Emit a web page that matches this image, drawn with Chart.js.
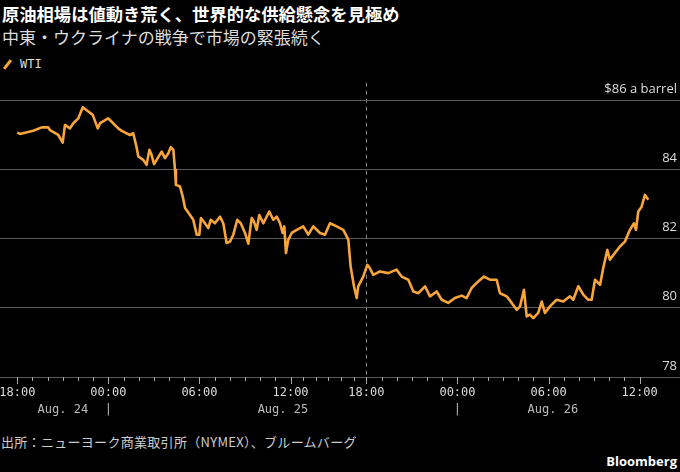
<!DOCTYPE html>
<html>
<head>
<meta charset="utf-8">
<script src="https://cdn.jsdelivr.net/npm/chart.js@4.4.1/dist/chart.umd.min.js"></script>
<style>
  body { margin:0; background:#000; width:680px; height:472px; overflow:hidden; position:relative; font-family:"Noto Sans CJK JP","Noto Sans",sans-serif; }
  .title { position:absolute; left:2px; top:2px; color:#fff; font-size:17.3px; font-weight:700; line-height:24px; white-space:nowrap; }
  .sub { position:absolute; left:2px; top:25px; color:#ddd; font-size:17px; line-height:24px; white-space:nowrap; }
  .legend { position:absolute; left:2px; top:56px; color:#ddd; font:12px "DejaVu Sans Mono",monospace; line-height:16px; }
  .legend i { position:absolute; left:0px; top:7px; width:11px; height:3px; background:#f8a53a; transform:rotate(-52deg); }
  .legend span { position:absolute; left:18px; top:0; }
  #wrap { position:absolute; left:0; top:70px; width:680px; height:352px; }
  .src { position:absolute; left:1px; top:433px; color:#ccc; font-size:13px; letter-spacing:0.3px; line-height:18px; white-space:nowrap; }
  .brand { position:absolute; right:3px; top:452px; color:#fff; font:700 13px "Open Sans",sans-serif; line-height:18px; }
</style>
</head>
<body>
<div class="title">原油相場は値動き荒く、世界的な供給懸念を見極め</div>
<div class="sub">中東・ウクライナの戦争で市場の緊張続く</div>
<div class="legend"><i></i><span>WTI</span></div>
<div id="wrap"><canvas id="myChart"></canvas></div>
<div class="src">出所：ニューヨーク商業取引所（NYMEX）、ブルームバーグ</div>
<div class="brand">Bloomberg</div>
<script>
// trading hours since Aug 24 18:00 (17:00-18:00 break left out)
var hours = [0,0.18,1.05,1.61,2.04,2.15,2.70,2.99,3.14,3.47,
  3.69,4.02,4.31,4.61,4.97,5.30,5.45,5.99,6.15,6.65,
  6.88,7.42,7.64,7.87,7.97,8.30,8.52,8.70,8.85,9.01,
  9.18,9.51,9.73,9.95,10.11,10.28,10.39,10.45,10.72,10.90,
  11.05,11.38,11.59,11.82,11.99,12.10,12.36,12.58,12.74,13.02,
  13.35,13.57,13.79,14.01,14.23,14.49,14.72,15.00,15.22,15.44,
  15.59,15.77,15.94,16.21,16.60,16.86,17.09,17.31,17.48,17.59,
  17.70,17.85,18.08,18.41,18.84,19.17,19.50,19.94,20.27,20.60,
  21.04,21.48,21.70,21.81,21.96,22.18,22.36,22.46,22.79,23.06,
  23.23,23.45,23.89,24.44,24.99,25.32,25.76,26.09,26.42,26.86,
  27.19,27.63,27.96,28.39,28.83,29.28,29.60,29.93,30.37,30.74,
  31.14,31.58,31.80,32.24,32.57,32.90,33.12,33.38,33.56,33.77,
  33.99,34.32,34.55,34.76,35.09,35.53,35.97,36.41,36.63,36.96,
  37.29,37.62,37.84,38.06,38.39,38.60,38.87,39.04,39.37,39.70,
  40.03,40.36,40.63,40.76,40.91,41.13,41.35,41.57];
var wti = [85.06,85.02,85.11,85.21,85.21,85.13,84.99,84.77,85.28,85.18,
  85.33,85.47,85.79,85.69,85.57,85.18,85.33,85.47,85.40,85.18,
  85.11,84.99,85.04,84.61,84.37,84.27,84.13,84.56,84.41,84.15,
  84.27,84.51,84.32,84.46,84.64,84.56,83.98,83.55,83.50,83.21,
  82.88,82.68,82.54,82.11,82.11,82.59,82.44,82.30,82.54,82.44,
  82.63,82.44,81.87,81.91,82.11,82.54,82.44,82.16,81.85,82.59,
  82.49,82.25,82.68,82.44,82.78,82.54,82.63,82.44,82.16,82.35,
  81.58,81.96,82.16,82.25,82.35,82.11,82.35,82.16,82.11,82.44,
  82.35,82.25,82.06,81.96,81.19,80.62,80.28,80.62,80.90,81.24,
  81.14,80.95,81.05,81.00,81.10,80.90,80.81,80.47,80.42,80.62,
  80.33,80.47,80.23,80.14,80.28,80.35,80.28,80.57,80.76,80.90,
  80.81,80.81,80.42,80.33,80.14,79.94,80.04,80.52,79.75,79.80,
  79.70,79.85,80.18,79.85,80.04,80.23,80.18,80.33,80.23,80.62,
  80.38,80.23,80.23,80.81,80.66,81.14,81.67,81.39,81.58,81.77,
  81.91,82.25,82.44,82.25,82.78,82.92,83.26,83.12];

var tickHours = [0,6,12,18,23,29,35,41];
var tickLabels = ['18:00','00:00','06:00','12:00','18:00','00:00','06:00','12:00'];
var breakHour = 23; // session break Aug 25 17:00-18:00
var dayLabels = ['Aug. 24','Aug. 25','Aug. 26'];
var dayStarts = [0,6,29];
var yTicks = [78,80,82,84,86];

var axisDecor = {
  id: 'axisDecor',
  afterDraw: function(chart) {
    var ctx = chart.ctx, x = chart.scales.x, bottom = chart.chartArea.bottom;
    ctx.save();
    ctx.strokeStyle = '#aaa';
    ctx.lineWidth = 1;
    x.ticks.forEach(function(t) {
      var px = Math.round(x.getPixelForValue(t.value)) + 0.5;
      ctx.beginPath();
      ctx.moveTo(px, bottom);
      ctx.lineTo(px, bottom + (t.minor ? 4 : 7));
      ctx.stroke();
    });
    ctx.font = '12px "DejaVu Sans Mono", monospace';
    ctx.fillStyle = '#bbb';
    ctx.textAlign = 'center';
    ctx.textBaseline = 'middle';
    var last = hours[hours.length - 1];
    dayLabels.forEach(function(d, i) {
      var a = dayStarts[i], b = i < dayStarts.length - 1 ? dayStarts[i + 1] : last;
      ctx.fillText(d, x.getPixelForValue((a + b) / 2), bottom + 33);
      if (i > 0) ctx.fillText('|', x.getPixelForValue(a), bottom + 33);
    });
    ctx.restore();
  }
};

var chart = new Chart(document.getElementById('myChart'), {
  type: 'line',
  data: {
    datasets: [{
      label: 'WTI',
      data: hours.map(function(h, i) { return { x: h, y: wti[i] }; }),
      borderColor: '#f8a53a',
      borderWidth: 2.6,
      borderJoinStyle: 'round',
      pointRadius: 0,
      tension: 0
    }]
  },
  options: {
    responsive: true,
    maintainAspectRatio: false,
    animation: false,
    layout: { padding: { top: 12.7, left: 0, right: 0, bottom: 0 } },
    plugins: { legend: { display: false }, tooltip: { enabled: false } },
    scales: {
      x: {
        type: 'linear',
        min: -1.14,
        max: 43.66,
        afterBuildTicks: function(scale) {
          var t = [];
          tickHours.forEach(function(h, i) {
            t.push({ value: h });
            if (i < tickHours.length - 1) {
              var step = (tickHours[i + 1] - h) / 6;
              for (var k = 1; k < 6; k++) t.push({ value: h + step * k, minor: true });
            }
          });
          scale.ticks = t;
        },
        afterFit: function(scale) {
          scale.height = 45;
          scale.paddingLeft = 0;
          scale.paddingRight = 0;
        },
        ticks: {
          autoSkip: false,
          maxRotation: 0,
          padding: 9,
          color: '#ddd',
          font: { family: 'DejaVu Sans Mono', size: 12 },
          callback: function(v, i, ticks) {
            if (ticks[i].minor) return '';
            var k = tickHours.indexOf(v);
            return k >= 0 ? tickLabels[k] : '';
          }
        },
        grid: {
          drawTicks: false,
          color: function(c) { return c.tick && c.tick.value === breakHour ? '#888' : 'rgba(0,0,0,0)'; }
        },
        border: { display: false, dash: [4, 4] }
      },
      y: {
        position: 'right',
        min: 78,
        max: 86.5,
        afterBuildTicks: function(scale) {
          scale.ticks = yTicks.map(function(v) { return { value: v }; });
        },
        afterFit: function(scale) { scale.width = 0; },
        ticks: {
          mirror: true,
          padding: -3,
          labelOffset: -11,
          color: '#ddd',
          font: { family: 'Open Sans', size: 13 },
          callback: function(v) { return v === 86 ? '$86 a barrel' : v; }
        },
        grid: { drawTicks: false, color: '#5a5a5a' },
        border: { display: false }
      }
    }
  },
  plugins: [axisDecor]
});
</script>
</body>
</html>
